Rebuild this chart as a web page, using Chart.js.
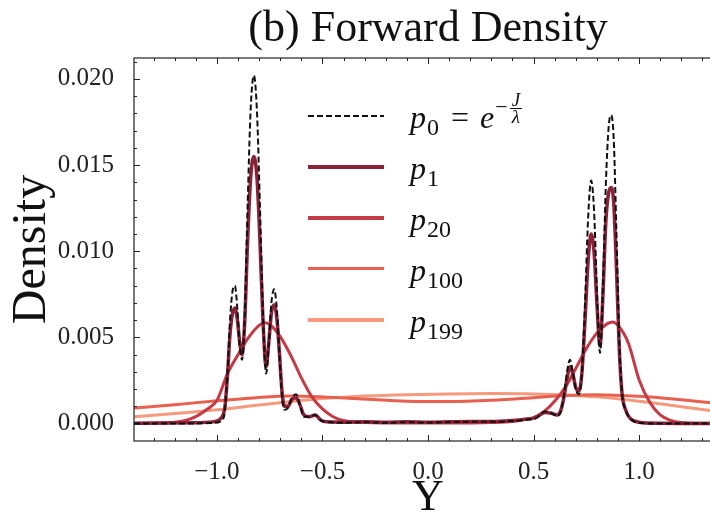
<!DOCTYPE html>
<html>
<head>
<meta charset="utf-8">
<script src="https://cdn.jsdelivr.net/npm/chart.js@4.4.1/dist/chart.umd.min.js"></script>
<style>
  html,body{margin:0;padding:0;background:#fff;overflow:hidden;width:710px;height:516px}
  #wrap{position:relative;width:856px;height:516px}
  #legend{position:absolute;left:0;top:0;font-family:"Liberation Serif",serif;color:#111}
  .key{position:absolute;left:308px;width:76px;height:3.5px}
  .key.dash{height:2.2px;background:repeating-linear-gradient(to right,#111 0 6px,transparent 6px 9px)}
  .lab{position:absolute;left:410px;font-size:32px;line-height:32px;white-space:nowrap}
  .lab i{font-style:italic}
  .sb{font-size:24px;position:relative;top:7px;margin-left:1px}
  .eq{margin:0 11px 0 12px}
  .sp{display:inline-block;position:relative;top:-14px;font-size:22px;line-height:22px;margin-left:1px}
  .fr{display:inline-block;vertical-align:middle;text-align:center;font-size:19px;line-height:16px;margin-left:2px}
  .fr i{display:block}
  .fr .n{border-bottom:1.3px solid #111;padding:0 2px}
</style>
</head>
<body>
<div id="wrap">
  <canvas id="c" width="856" height="516"></canvas>
  <div id="legend">
    <div class="key dash" style="top:114.6px"></div>
    <div class="key" style="top:165px;background:#8c2238"></div>
    <div class="key" style="top:216px;background:#c43b45"></div>
    <div class="key" style="top:266.5px;background:#e8604f"></div>
    <div class="key" style="top:318.2px;background:#f59a7c"></div>
    <div class="lab" style="top:101px"><i>p</i><span class="sb">0</span><span class="eq">=</span><i>e</i><span class="sp">−<span class="fr"><i class="n">J</i><i>λ</i></span></span></div>
    <div class="lab" style="top:152px"><i>p</i><span class="sb">1</span></div>
    <div class="lab" style="top:203px"><i>p</i><span class="sb">20</span></div>
    <div class="lab" style="top:253.5px"><i>p</i><span class="sb">100</span></div>
    <div class="lab" style="top:305px"><i>p</i><span class="sb">199</span></div>
  </div>
</div>
<script>
// sample positions for the sharp curves (p0, p1)
const xSharp = [-1.393,-1.25,-1.10,-1.02,-0.975,-0.962,-0.950,-0.938,-0.926,-0.915,-0.903,-0.892,-0.881,
  -0.868,-0.855,-0.840,-0.825,-0.810,-0.796,-0.782,-0.767,-0.755,-0.742,-0.729,-0.716,-0.704,-0.692,-0.680,
  -0.664,-0.645,-0.625,-0.607,-0.588,-0.562,-0.535,-0.508,-0.480,-0.40,-0.30,-0.20,-0.10,0.00,0.10,0.20,0.30,
  0.40,0.46,0.51,0.555,0.585,0.612,0.630,0.645,0.660,0.673,0.686,0.700,0.715,0.729,0.744,0.759,0.773,0.787,
  0.801,0.815,0.829,0.843,0.856,0.868,0.880,0.893,0.906,0.919,0.936,0.958,1.000,1.10,1.393];
const p0 = [0,0,0.00001,0.00004,0.0002,0.0008,0.0030,0.0060,0.0077,0.0080,0.0066,0.0045,0.0037,
  0.0065,0.0125,0.0183,0.0202,0.0180,0.0125,0.0065,0.0029,0.0045,0.0070,0.0078,0.0066,0.0040,0.0016,0.0008,
  0.0009,0.0015,0.0017,0.0011,0.0004,0.0004,0.0005,0.0002,0.0001,0.00005,0.00008,0.00005,0.00008,0.00006,0.00008,0.0001,0.0001,
  0.00015,0.00022,0.0003,0.0007,0.0006,0.00045,0.0007,0.0017,0.0031,0.0037,0.0030,0.0020,0.0017,0.0029,0.0070,0.0120,0.0141,0.0123,
  0.0075,0.0041,0.0080,0.0140,0.0172,0.0179,0.0165,0.0110,0.0050,0.0018,0.0008,0.0003,0.00005,0,0];
const p1 = [0.00002,0.00003,0.00005,0.0001,0.0004,0.0010,0.0028,0.0052,0.0064,0.0067,0.0060,0.0047,0.0040,
  0.0060,0.0105,0.0143,0.0155,0.0142,0.0105,0.0060,0.0033,0.0046,0.0064,0.0069,0.0061,0.0041,0.0019,0.0010,
  0.0010,0.0014,0.0015,0.0011,0.0005,0.0004,0.0005,0.0002,0.0001,0.00008,0.0001,0.00008,0.0001,0.00008,0.0001,0.00012,0.00012,
  0.00018,0.00025,0.00035,0.00065,0.0006,0.0005,0.0008,0.0016,0.0027,0.0033,0.0029,0.0021,0.0019,0.0029,0.0060,0.0095,0.0110,0.0099,
  0.0068,0.0045,0.0075,0.0118,0.0134,0.0137,0.0128,0.0090,0.0044,0.0018,0.0008,0.0003,0.00008,0.00002,0];

// p20: two smooth bumps
const xSmooth = [-1.393,-1.30,-1.20,-1.15,-1.10,-1.05,-1.00,-0.95,-0.90,-0.85,-0.80,-0.775,-0.75,-0.70,-0.65,
  -0.60,-0.55,-0.50,-0.45,-0.40,-0.30,-0.10,0.10,0.30,0.40,0.45,0.50,0.55,0.60,0.65,0.70,0.75,0.80,0.85,0.875,
  0.90,0.95,1.00,1.05,1.10,1.15,1.20,1.30,1.393];
const p20 = [0.00001,0.00003,0.00008,0.00018,0.0004,0.0008,0.00135,0.0029,0.0040,0.0050,0.0057,0.00585,0.00575,0.00505,0.00395,
  0.00265,0.00155,0.00085,0.0004,0.00018,0.00006,0.00003,0.00003,0.00006,0.00012,0.00022,0.00035,0.0007,0.0013,0.0021,0.0032,0.00435,0.00525,0.0058,0.0059,
  0.0057,0.00465,0.00255,0.00125,0.0005,0.00018,0.00006,0.00002,0.00001];

// p100, p199: broad curves
const xWide = [-1.393,-1.2,-1.0,-0.8,-0.65,-0.5,-0.3,-0.1,0.1,0.3,0.5,0.65,0.8,1.0,1.2,1.393];
const p100 = [0.0009,0.0011,0.00132,0.00152,0.0016,0.00155,0.00142,0.0013,0.00128,0.00135,0.0015,0.00163,0.00168,0.00158,0.00138,0.00115];
const p199 = [0.0004,0.00058,0.0008,0.00108,0.00128,0.00145,0.0016,0.00168,0.00172,0.00174,0.00172,0.00166,0.00155,0.0013,0.00098,0.00068];

const xTickVals = [-1,-0.5,0,0.5,1];
const xTickLabels = ['−1.0','−0.5','0.0','0.5','1.0'];
const yTickVals = [0,0.005,0.01,0.015,0.02];
const yTickLabels = ['0.000','0.005','0.010','0.015','0.020'];

const SERIF = '"Liberation Serif", "DejaVu Serif", serif';
const series = [
  {xs:xSharp, ys:p0,   color:'#111111', w:2,   dash:[6,3]},
  {xs:xSharp, ys:p1,   color:'#8c2238', w:3.5},
  {xs:xSmooth,ys:p20,  color:'#c43b45', w:3},
  {xs:xWide,  ys:p100, color:'#e8604f', w:3},
  {xs:xWide,  ys:p199, color:'#f59a7c', w:3}
];

// inward ticks on all sides + frame, matplotlib style
const frameTicks = {
  id:'frameTicks',
  afterDatasetsDraw(chart){
    const {ctx, chartArea:a, scales:{x,y}} = chart;
    ctx.save();
    ctx.strokeStyle='#222'; ctx.lineWidth=1.2;
    ctx.strokeRect(a.left, a.top, a.right-a.left, a.bottom-a.top);
    ctx.lineWidth=1; ctx.beginPath();
    for(let k=-14;k<=14;k++){
      const px=Math.round(x.getPixelForValue(k/10))+0.5;
      if(px<a.left||px>a.right) continue;
      const len=k%5===0?6:3;
      ctx.moveTo(px,a.bottom); ctx.lineTo(px,a.bottom-len);
      ctx.moveTo(px,a.top); ctx.lineTo(px,a.top+len);
    }
    for(let k=-1;k<=21;k++){
      const py=Math.round(y.getPixelForValue(k/1000))+0.5;
      if(py<a.top||py>a.bottom) continue;
      const len=k%5===0?6:3;
      ctx.moveTo(a.left,py); ctx.lineTo(a.left+len,py);
      ctx.moveTo(a.right,py); ctx.lineTo(a.right-len,py);
    }
    ctx.stroke(); ctx.restore();
  }
};

new Chart(document.getElementById('c'), {
  type:'line',
  data:{datasets:series.map(s=>({
    data:s.xs.map((v,i)=>({x:v,y:s.ys[i]})),
    borderColor:s.color, borderWidth:s.w, borderDash:s.dash||[],
    pointRadius:0, fill:false, cubicInterpolationMode:'monotone'
  }))},
  options:{
    responsive:false, animation:false,
    layout:{padding:0},
    plugins:{
      legend:{display:false}, tooltip:{enabled:false},
      title:{display:true, text:'(b) Forward Density', color:'#111',
        font:{family:SERIF,size:44,weight:'normal'}, padding:{top:2.6,bottom:2.6}}
    },
    scales:{
      x:{type:'linear', min:-1.393, max:1.393,
        grid:{display:false}, border:{display:false},
        afterBuildTicks:s=>{s.ticks=xTickVals.map(v=>({value:v}));},
        afterFit:s=>{s.height=75;},
        ticks:{color:'#222', padding:8, maxRotation:0, font:{family:SERIF,size:25},
          callback:(v,i)=>xTickLabels[i]},
        title:{display:true, text:'Y', color:'#111', padding:{top:0,bottom:0},
          font:{family:SERIF,size:44,lineHeight:0.8}}
      },
      y:{min:-0.00101, max:0.02121,
        grid:{display:false}, border:{display:false},
        afterBuildTicks:s=>{s.ticks=yTickVals.map(v=>({value:v}));},
        afterFit:s=>{s.width=134;},
        ticks:{color:'#222', padding:12, font:{family:SERIF,size:25},
          callback:(v,i)=>yTickLabels[i]},
        title:{display:true, text:'Density', color:'#111', padding:{top:4,bottom:0},
          font:{family:SERIF,size:48}}
      },
      // empty right-hand box so the plot (and title) stay centred like the cropped original
      yR:{position:'right', min:-0.00101, max:0.02121,
        grid:{display:false}, border:{display:false}, ticks:{display:false},
        afterFit:s=>{s.width=134;}}
    }
  },
  plugins:[frameTicks]
});
</script>
</body>
</html>
